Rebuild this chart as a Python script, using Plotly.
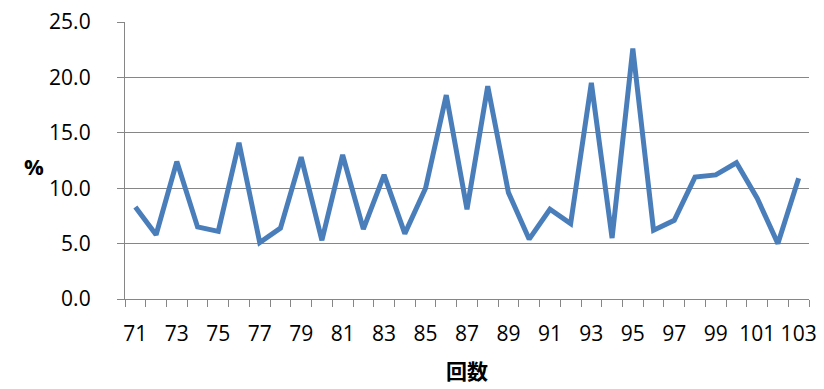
import plotly.graph_objects as go

# 回数 (session number) and percentage per session
sessions = list(range(71, 104))
percent = [8.3, 5.8, 12.4, 6.5, 6.1, 14.1, 5.1, 6.4, 12.8, 5.3,
           13.0, 6.3, 11.2, 5.9, 10.0, 18.4, 8.1, 19.2, 9.6, 5.4,
           8.1, 6.8, 19.5, 5.5, 22.6, 6.2, 7.1, 11.0, 11.2, 12.3,
           9.1, 5.0, 10.9]
y_ticks = [0, 5, 10, 15, 20, 25]
x_label_ticks = sessions[::2]

axis_gray = "#868686"
num_font = dict(family="Open Sans, Noto Sans CJK JP, sans-serif", size=21, color="#000000")

M_L, M_R, M_T, M_B = 125, 15, 22, 90

fig = go.Figure(
    go.Scatter(
        x=sessions,
        y=percent,
        mode="lines",
        line=dict(color="#4A7EBB", width=5),
        hoverinfo="x+y",
    )
)

fig.update_layout(
    width=824,
    height=389,
    margin=dict(l=M_L, r=M_R, t=M_T, b=M_B),
    paper_bgcolor="#FFFFFF",
    plot_bgcolor="#FFFFFF",
    showlegend=False,
    font=num_font,
    xaxis=dict(
        automargin=False,
        range=[sessions[0] - 0.5, sessions[-1] + 0.5],
        tickmode="array",
        tickvals=x_label_ticks,
        ticktext=[str(v) for v in x_label_ticks],
        ticks="",
        ticklabelstandoff=16,
        showgrid=False,
        zeroline=False,
        showline=True,
        linecolor=axis_gray,
        linewidth=1.3,
        tickfont=num_font,
        minor=dict(
            ticks="outside",
            tickmode="linear",
            tick0=sessions[0] - 0.5,
            dtick=1,
            ticklen=7,
            tickwidth=1.3,
            tickcolor=axis_gray,
            showgrid=False,
        ),
        title=dict(
            text="<b>回数</b>",
            font=dict(family="Noto Sans CJK JP, sans-serif", size=21, color="#000000"),
            standoff=17,
        ),
    ),
    yaxis=dict(
        automargin=False,
        range=[0, 25],
        tickmode="array",
        tickvals=y_ticks,
        tickformat=".1f",
        ticks="outside",
        ticklen=7,
        tickwidth=1.3,
        tickcolor=axis_gray,
        ticklabelstandoff=22,
        showgrid=True,
        gridcolor=axis_gray,
        gridwidth=1.3,
        zeroline=False,
        showline=True,
        linecolor=axis_gray,
        linewidth=1.3,
        tickfont=num_font,
    ),
)

# "%" label placed horizontally to the left of the value axis
plot_w = 824 - M_L - M_R
plot_h = 389 - M_T - M_B
fig.add_annotation(
    text="<b>%</b>",
    x=(22 - M_L) / plot_w,
    y=(389 - M_B - 166) / plot_h,
    xref="paper",
    yref="paper",
    showarrow=False,
    font=dict(family="Open Sans, sans-serif", size=22, color="#000000"),
)

fig.write_html("out.html")
